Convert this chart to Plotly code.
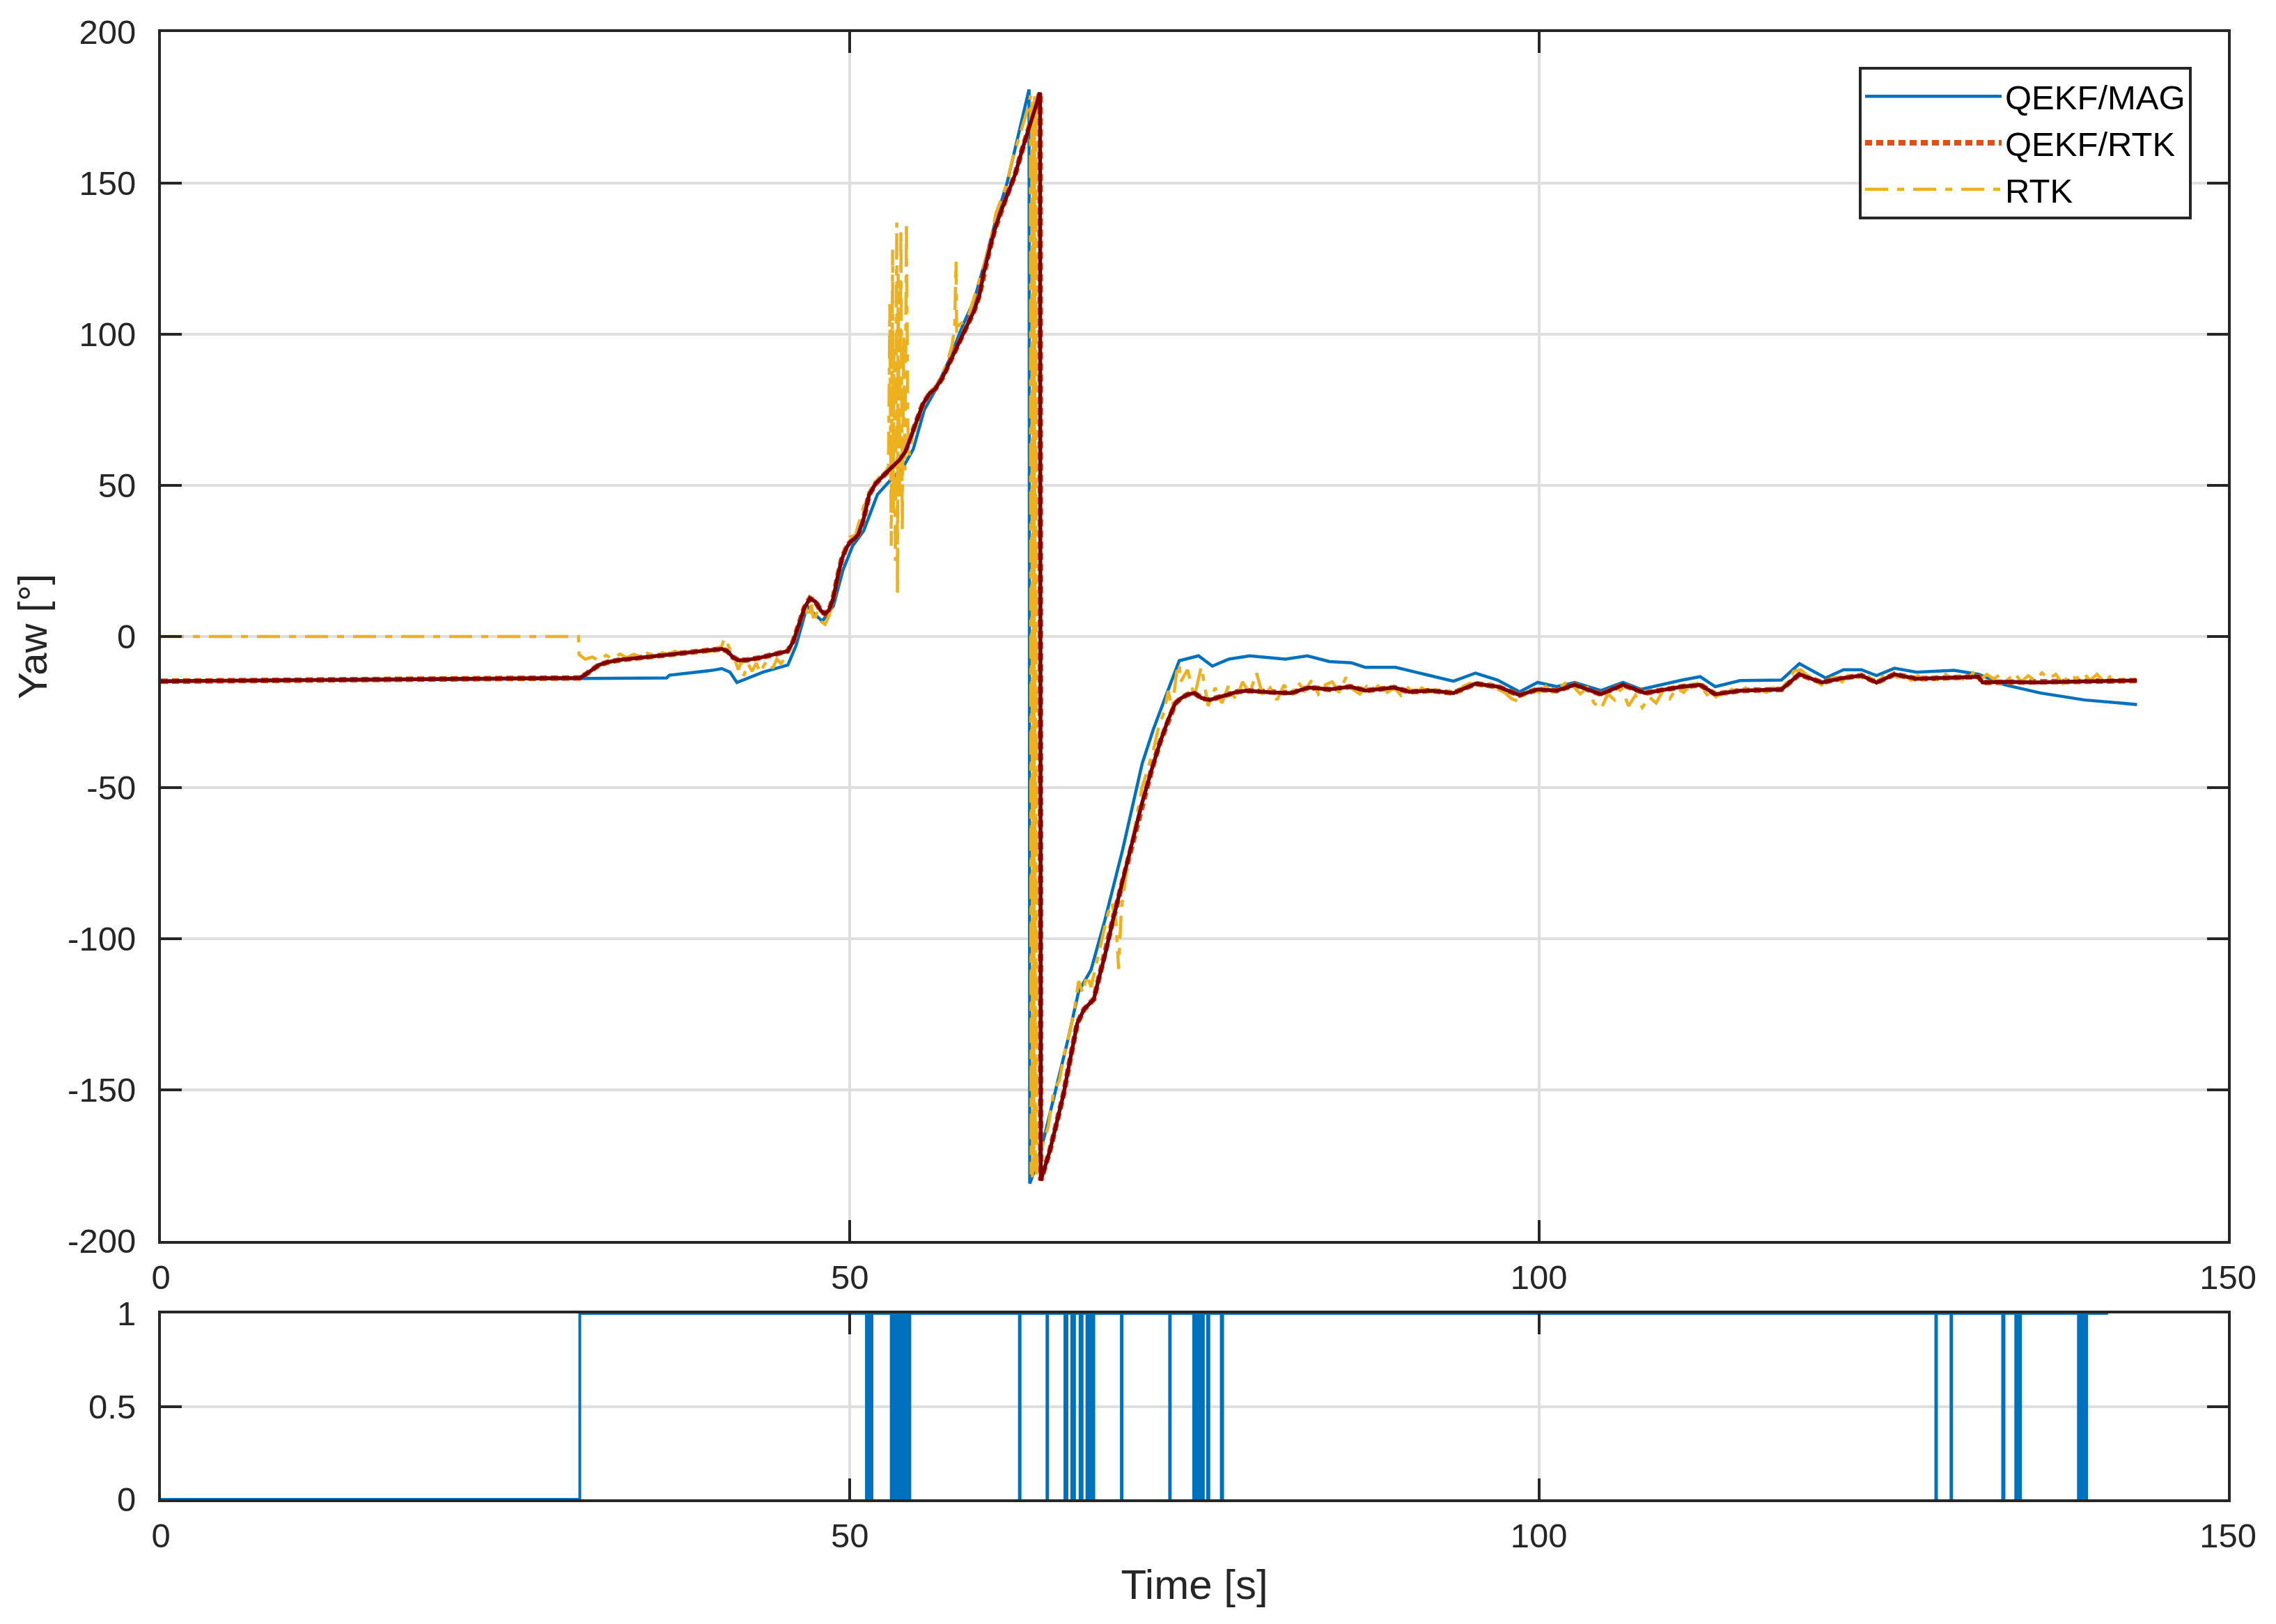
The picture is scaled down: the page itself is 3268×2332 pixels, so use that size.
import plotly.graph_objects as go

# ---------------- data ----------------
t_mag = [0, 10, 20, 30.4, 33.0, 36.7, 36.9, 38.5, 40.0, 40.7, 41.3, 41.8, 42.7, 43.7, 45.5, 46.1,
         46.9, 47.4, 48.0, 48.8, 49.5, 50.2, 51.0, 52.0, 53.0, 53.8, 54.6, 55.4, 56.2, 57.2, 58.2,
         59.0, 59.8, 60.6, 61.4, 62.0, 62.5, 63.0, 63.05, 63.45, 64.1, 65.0, 65.8, 66.6, 67.5, 68.5,
         69.8, 71.2, 72.0, 72.9, 73.9, 75.3, 76.3, 77.5, 79.0, 81.6, 83.2, 84.8, 86.4, 87.4, 89.6,
         91.7, 93.8, 95.4, 97.0, 98.6, 99.9, 101.3, 102.6, 104.5, 106.1, 107.4, 108.7, 110.4, 111.7,
         112.8, 114.6, 117.6, 118.9, 120.8, 122.1, 123.4, 124.5, 125.8, 127.4, 130.1, 131.9, 133.8,
         136.4, 139.6, 143.4]
yaw_mag = [-14.8, -14.5, -14.2, -13.7, -13.7, -13.7, -12.8, -12.0, -11.2, -10.6, -11.8, -15.2,
           -13.5, -11.8, -9.4, -2.9, 10.1, 7.5, 5.1, 10.1, 22.0, 30.0, 35.0, 47.0, 52.0, 55.5, 62.0,
           75.0, 81.5, 91.5, 103.0, 111.0, 124.0, 138.0, 150.0, 162.0, 172.0, 181.0, -181.0, -176.2,
           -165.6, -149.0, -133.8, -117.4, -110.3, -93.9, -70.4, -42.2, -31.0, -20.0, -8.0, -6.4,
           -9.8, -7.5, -6.4, -7.5, -6.4, -8.3, -8.7, -10.2, -10.2, -12.5, -14.8, -12.1, -14.4, -18.3,
           -15.2, -16.6, -15.2, -17.9, -15.2, -17.5, -16.1, -14.4, -13.3, -16.6, -14.6, -14.4, -9.0,
           -13.7, -11.0, -11.0, -12.9, -10.5, -11.8, -11.2, -12.5, -16.0, -18.7, -21.0, -22.5]

t_qrtk = [0, 10, 20, 30.4, 30.8, 31.3, 31.8, 32.5, 33.5, 35.0, 36.5, 38.0, 39.5, 40.7, 41.1, 41.5,
          41.9, 42.5, 43.5, 44.5, 45.5, 45.9, 46.3, 46.7, 47.1, 47.5, 47.9, 48.2, 48.5, 48.8, 49.1,
          49.4, 49.7, 50.0, 50.3, 50.6, 51.0, 51.4, 51.9, 52.4, 53.0, 53.6, 54.0, 54.3, 54.8, 55.3,
          55.8, 56.2, 56.7, 57.2, 57.7, 58.2, 58.6, 59.0, 59.4, 59.7, 60.1, 60.5, 60.9, 61.3, 61.7,
          62.0, 62.5, 63.0, 63.5, 63.8, 63.85, 64.5, 65.0, 65.5, 66.0, 66.5, 67.0, 67.4, 67.7, 68.1,
          68.5, 69.1, 69.8, 70.5, 71.2, 71.9, 72.5, 73.1, 73.6, 74.0, 74.5, 75.0, 75.5, 76.1, 76.8,
          77.5, 78.1, 78.8, 80.5, 82.0, 83.3, 84.8, 86.3, 87.4, 89.5, 90.6, 92.2, 93.8, 95.4, 97.0,
          98.6, 99.9, 101.3, 102.6, 104.5, 106.1, 107.7, 108.7, 110.4, 111.7, 112.8, 114.6, 116.0,
          117.6, 118.9, 120.5, 122.1, 123.4, 124.5, 125.8, 127.4, 129.0, 130.1, 131.9, 132.2, 134.0,
          135.9, 138.0, 140.0, 143.4]
yaw_qrtk = [-14.8, -14.5, -14.2, -13.7, -12.6, -10.8, -9.4, -8.4, -7.6, -6.9, -6.1, -5.5, -4.8,
            -4.1, -4.8, -6.8, -7.9, -7.8, -7.0, -6.0, -4.8, -1.5, 4.0, 9.5, 12.6, 11.5, 8.5, 7.5,
            8.8, 12.8, 19.5, 25.4, 29.0, 31.1, 32.3, 33.7, 39.0, 47.0, 50.8, 53.2, 55.8, 58.4, 61.0,
            64.5, 71.0, 76.9, 80.5, 82.0, 85.5, 90.3, 95.5, 100.5, 104.0, 107.7, 113.0, 120.1,
            127.5, 134.5, 140.0, 144.8, 149.5, 153.0, 161.0, 168.0, 175.0, 180.0, -180.0, -170.3,
            -161.0, -151.5, -139.5, -128.0, -123.3, -121.5, -120.0, -112.5, -105.6, -93.5, -80.9,
            -68.0, -55.1, -44.0, -35.1, -27.5, -22.2, -20.5, -19.2, -18.7, -20.3, -21.0, -20.0,
            -19.0, -18.3, -17.9, -18.5, -18.7, -16.9, -17.5, -16.6, -17.9, -16.9, -18.3, -17.9,
            -18.7, -15.6, -16.6, -19.4, -17.5, -17.9, -16.0, -19.1, -16.0, -18.7, -17.9, -16.6,
            -16.0, -19.1, -17.9, -17.8, -17.5, -12.5, -15.2, -13.7, -12.9, -15.2, -12.5, -14.0,
            -13.8, -13.7, -13.3, -15.2, -15.0, -15.2, -14.9, -14.8, -14.6]

t_rtk = [0, 30.3, 30.35, 30.8, 31.3, 31.8, 32.3, 32.8, 33.3, 33.8, 34.3, 34.8, 35.3, 35.8, 36.3,
         36.8, 37.3, 37.8, 38.3, 38.8, 39.3, 39.8, 40.3, 40.7, 40.9, 41.2, 41.6, 41.9, 42.1, 42.3,
         42.6, 42.9, 43.2, 43.5, 43.8, 44.1, 44.4, 44.7, 45.0, 45.3, 45.6, 46.0, 46.4, 46.8, 47.0,
         47.2, 47.4, 47.6, 47.9, 48.2, 48.5, 48.8, 49.1, 49.4, 49.7, 50.0, 50.4, 50.8, 51.2, 51.6,
         52.0, 52.4, 52.8, 52.9, 53.0, 53.1, 53.15, 53.2, 53.3, 53.4, 53.45, 53.5, 53.6, 53.7, 53.8,
         53.9, 54.0, 54.1, 54.2, 54.3, 54.6, 55.0, 55.4, 55.8, 56.2, 56.6, 57.0, 57.4, 57.6, 57.7,
         57.75, 57.9, 58.2, 58.6, 59.0, 59.4, 59.8, 60.2, 60.6, 61.0, 61.4, 61.8, 62.2, 62.6, 63.0,
         63.1, 63.15, 63.2, 63.25, 63.3, 63.35, 63.4, 63.45, 63.5, 63.55, 63.6, 64.0, 64.4, 64.8,
         65.2, 65.6, 66.0, 66.3, 66.6, 66.9, 67.2, 67.5, 67.9, 68.3, 68.7, 69.0, 69.3, 69.5, 69.7,
         70.0, 70.4, 70.8, 71.2, 71.6, 72.0, 72.4, 72.8, 73.1, 73.4, 73.7, 73.9,
         74.0, 74.5, 75.0, 75.5, 76.0, 76.5, 77.0, 77.5, 78.0, 78.5, 79.0, 79.5, 80.0, 80.5, 81.0,
         81.5, 82.0, 82.5, 83.0, 83.5, 84.0, 84.5, 85.0, 85.5, 86.0, 86.5, 87.0, 87.5, 88.0, 88.5,
         89.0, 89.5, 90.0, 90.5, 91.0, 91.5, 92.0, 92.5, 93.0, 93.5, 94.0, 94.5, 95.0, 95.5, 96.0,
         96.5, 97.0, 97.5, 98.0, 98.5, 99.0, 99.5, 100.0, 100.5, 101.0, 101.5, 102.0, 102.5, 103.0,
         103.5, 104.0, 104.5, 105.0, 105.5, 106.0, 106.5, 107.0, 107.5, 108.0, 108.5, 109.0, 109.5,
         110.0, 110.5, 111.0, 111.5, 112.0, 112.5, 113.0, 113.5, 114.0, 114.5, 115.0, 115.5, 116.0,
         116.5, 117.0, 117.5, 118.0, 118.5, 119.0, 119.5, 120.0, 120.5, 121.0, 121.5, 122.0, 122.5,
         123.0, 123.5, 124.0, 124.5, 125.0, 125.5, 126.0, 126.5, 127.0, 127.5, 128.0, 128.5, 129.0,
         129.5, 130.0, 130.5, 131.0, 131.5, 132.0, 132.5, 133.0, 133.5, 134.0, 134.5, 135.0, 135.5,
         136.0, 136.5, 137.0, 137.5, 138.0, 138.5, 139.0, 139.5, 140.0, 140.5, 141.0, 141.5]
yaw_rtk = [0, 0, -6.0, -7.5, -6.8, -8.0, -6.2, -7.4, -5.8, -7.0, -5.9, -6.6, -5.5, -6.3, -5.2,
           -6.0, -4.9, -5.7, -4.6, -5.3, -4.5, -5.0, -4.2, -3.2, -0.5, -3.5, -7.0, -11.0, -8.5,
           -13.0, -9.0, -11.5, -8.8, -12.0, -9.2, -8.0, -10.5, -7.5, -9.0, -7.0, -5.0, -1.0, 6.0,
           9.5, 6.0, 10.5, 4.5, 8.0, 5.0, 4.0, 7.0, 12.0, 20.0, 26.0, 30.0, 33.0, 33.5, 40.0, 46.0,
           49.0, 52.0, 54.0, 56.0, 110.0, 30.0, 128.0, 40.0, 95.0, 25.0, 137.0, 14.0, 120.0, 45.0,
           135.0, 35.0, 100.0, 55.0, 137.0, 70.0, 60.0, 68.0, 72.0, 78.0, 81.0, 82.5, 86.0, 90.0,
           96.0, 102.0, 124.0, 100.0, 103.0, 104.0, 106.0, 112.0, 118.0, 124.0, 131.0, 140.0,
           145.0, 150.0, 158.0, 164.0, 170.0, 176.0, 179.0, -178.0, 178.0, -179.0, 177.0, -176.0,
           179.0, -177.0, 178.0, -178.0, -172.0, -168.0, -162.0, -150.0, -147.0, -137.0, -130.0,
           -123.0, -114.0, -118.0, -112.0, -116.0, -108.0, -100.0, -92.0, -88.0, -94.0, -110.0,
           -90.0, -80.0, -70.0, -60.0, -50.0, -44.0, -38.0, -30.0, -25.0, -18.0, -24.0, -12.0, -9.0,
           -15.0, -11.0, -20.0, -10.0, -23.0, -17.0, -22.0, -16.0, -21.0, -15.0, -19.0, -12.0,
           -20.0, -17.0, -21.0, -16.0, -19.5, -15.0, -18.0, -14.5, -19.0, -16.0, -15.0, -18.5,
           -13.5, -17.5, -19.0, -16.5, -18.0, -15.5, -18.5, -17.0, -19.5, -17.0, -19.0, -17.0,
           -18.5, -17.5, -19.0, -18.0, -20.0, -16.5, -15.5, -16.0, -17.0, -15.5, -17.5, -18.5,
           -20.5, -21.5, -19.0, -17.0, -18.5, -16.5, -18.5, -17.0, -15.0, -16.5, -19.0, -17.0,
           -22.0, -24.0, -19.0, -21.0, -17.0, -23.0, -19.5, -23.5, -20.0, -22.0, -18.0, -20.5,
           -17.0, -18.5, -16.0, -15.5, -18.0, -21.0, -19.5, -19.0, -17.5, -19.0, -17.0, -18.5,
           -17.5, -18.5, -17.0, -18.0, -15.0, -11.5, -11.0, -13.0, -14.5, -16.0, -14.0, -13.5,
           -15.0, -12.5, -14.0, -11.5, -13.5, -15.5, -13.0, -12.0, -13.5, -12.5, -14.5, -13.0,
           -14.5, -13.0, -14.5, -12.5, -14.0, -13.0, -15.0, -12.0, -14.5, -12.5, -14.0, -12.5,
           -14.5, -12.0, -15.0, -13.0, -14.5, -12.0, -14.0, -12.5, -15.5, -12.5, -14.0, -12.0,
           -14.5, -12.5, -15.0, -13.0]

flag_on_time = 30.4
flag_off_time = 141.3
gap_starts = [51.2, 51.5, 53.0, 53.3, 53.6, 53.95, 54.25, 62.3, 64.3, 65.6, 66.1, 66.7, 67.2,
              67.55, 69.7, 73.2, 74.95, 75.2, 75.55, 75.95, 76.95, 128.8, 129.9, 133.65, 134.6,
              134.85, 139.15, 139.45, 139.65]
gap_ends = [51.3, 51.6, 53.1, 53.4, 53.75, 54.05, 54.35, 62.35, 64.35, 65.75, 66.3, 66.85, 67.4,
            67.7, 69.75, 73.25, 75.05, 75.4, 75.65, 76.05, 77.05, 128.85, 129.95, 133.75, 134.75,
            134.95, 139.25, 139.55, 139.75]

x_ticks = [0, 50, 100, 150]
x_ticklabels = ["0", "50", "100", "150"]
yaw_ticks = [-200, -150, -100, -50, 0, 50, 100, 150, 200]
yaw_ticklabels = ["-200", "-150", "-100", "-50", "0", "50", "100", "150", "200"]
flag_ticks = [0, 0.5, 1]
flag_ticklabels = ["0", "0.5", "1"]

# ---------------- styling ----------------
BLUE = "#0072BD"
ORANGE = "#D95319"
YELLOW = "#EDB120"
DARKRED = "#7E0000"
AX = "#262626"
GRID = "#DFDFDF"
FONT = "Liberation Sans, Arial, Helvetica, sans-serif"
TICKF = 49

# build step series of the flag
flag_t = [0, flag_on_time, flag_on_time]
flag_v = [0, 0, 1]
for a, b in zip(gap_starts, gap_ends):
    flag_t += [a, a, b, b]
    flag_v += [1, 0, 0, 1]
flag_t.append(flag_off_time)
flag_v.append(1)

fig = go.Figure()
fig.add_trace(go.Scatter(x=t_mag, y=yaw_mag, mode="lines", name="QEKF/MAG",
                         line=dict(color=BLUE, width=4.5), xaxis="x", yaxis="y"))
fig.add_trace(go.Scatter(x=t_qrtk, y=yaw_qrtk, mode="lines", name="QEKF/RTK",
                         line=dict(color=ORANGE, width=8, dash="10px,6px"), xaxis="x", yaxis="y"))
fig.add_trace(go.Scatter(x=t_rtk, y=yaw_rtk, mode="lines", name="RTK",
                         line=dict(color=YELLOW, width=4.5, dash="33px,13px,10px,13px"),
                         xaxis="x", yaxis="y"))
fig.add_trace(go.Scatter(x=t_qrtk, y=yaw_qrtk, mode="lines", name="QEKF/RTK (line)",
                         showlegend=False, line=dict(color=DARKRED, width=5.5),
                         xaxis="x", yaxis="y"))
fig.add_trace(go.Scatter(x=flag_t, y=flag_v, mode="lines", showlegend=False, name="RTK flag",
                         line=dict(color=BLUE, width=4), xaxis="x2", yaxis="y2"))

# the page body has a default 8px margin: shrink the figure to compensate
PAD = 8
W, H = 3268 - PAD, 2332 - PAD
L, T = 231 - PAD, 46 - PAD
R = W - L - 2968
B = H - T - 2107
ph = H - T - B


def axstyle(**kw):
    d = dict(showline=True, linecolor=AX, linewidth=4, mirror="ticks", ticks="inside",
             ticklen=30, tickwidth=3.5, tickcolor=AX, showgrid=True, gridcolor=GRID,
             gridwidth=3.5, zeroline=False, tickfont=dict(family=FONT, size=TICKF, color=AX))
    d.update(kw)
    return d


fig.update_layout(
    width=W, height=H,
    margin=dict(l=L, r=R, t=T, b=B, autoexpand=False),
    paper_bgcolor="white", plot_bgcolor="white",
    font=dict(family=FONT, color=AX, size=TICKF),
    xaxis=axstyle(domain=[0, 1], anchor="y", range=[0, 150], tickvals=x_ticks,
                  ticktext=x_ticklabels, ticklabelstandoff=6),
    yaxis=axstyle(domain=[(2153 - 1782) / ph, 1], anchor="x", range=[-200, 200],
                  tickvals=yaw_ticks, ticktext=yaw_ticklabels, ticklabelstandoff=22,
                  title=dict(text="Yaw [°]", font=dict(family=FONT, size=58, color=AX),
                             standoff=12)),
    xaxis2=axstyle(domain=[0, 1], anchor="y2", range=[0, 150], tickvals=x_ticks,
                   ticktext=x_ticklabels, ticklabelstandoff=6,
                   title=dict(text="Time [s]", font=dict(family=FONT, size=60, color=AX),
                              standoff=24)),
    yaxis2=axstyle(domain=[0, (2153 - 1886) / ph], anchor="x2", range=[0, 1],
                   tickvals=flag_ticks, ticktext=flag_ticklabels, ticklabelstandoff=22),
    legend=dict(x=(3147 - 231) / 2968, y=(2153 - 96) / ph, xanchor="right",
                yanchor="top", bgcolor="white", bordercolor=AX, borderwidth=4,
                font=dict(family=FONT, size=TICKF, color="#000000"), itemwidth=196,
                tracegroupgap=0),
    showlegend=True,
)

fig.write_html("out.html")
